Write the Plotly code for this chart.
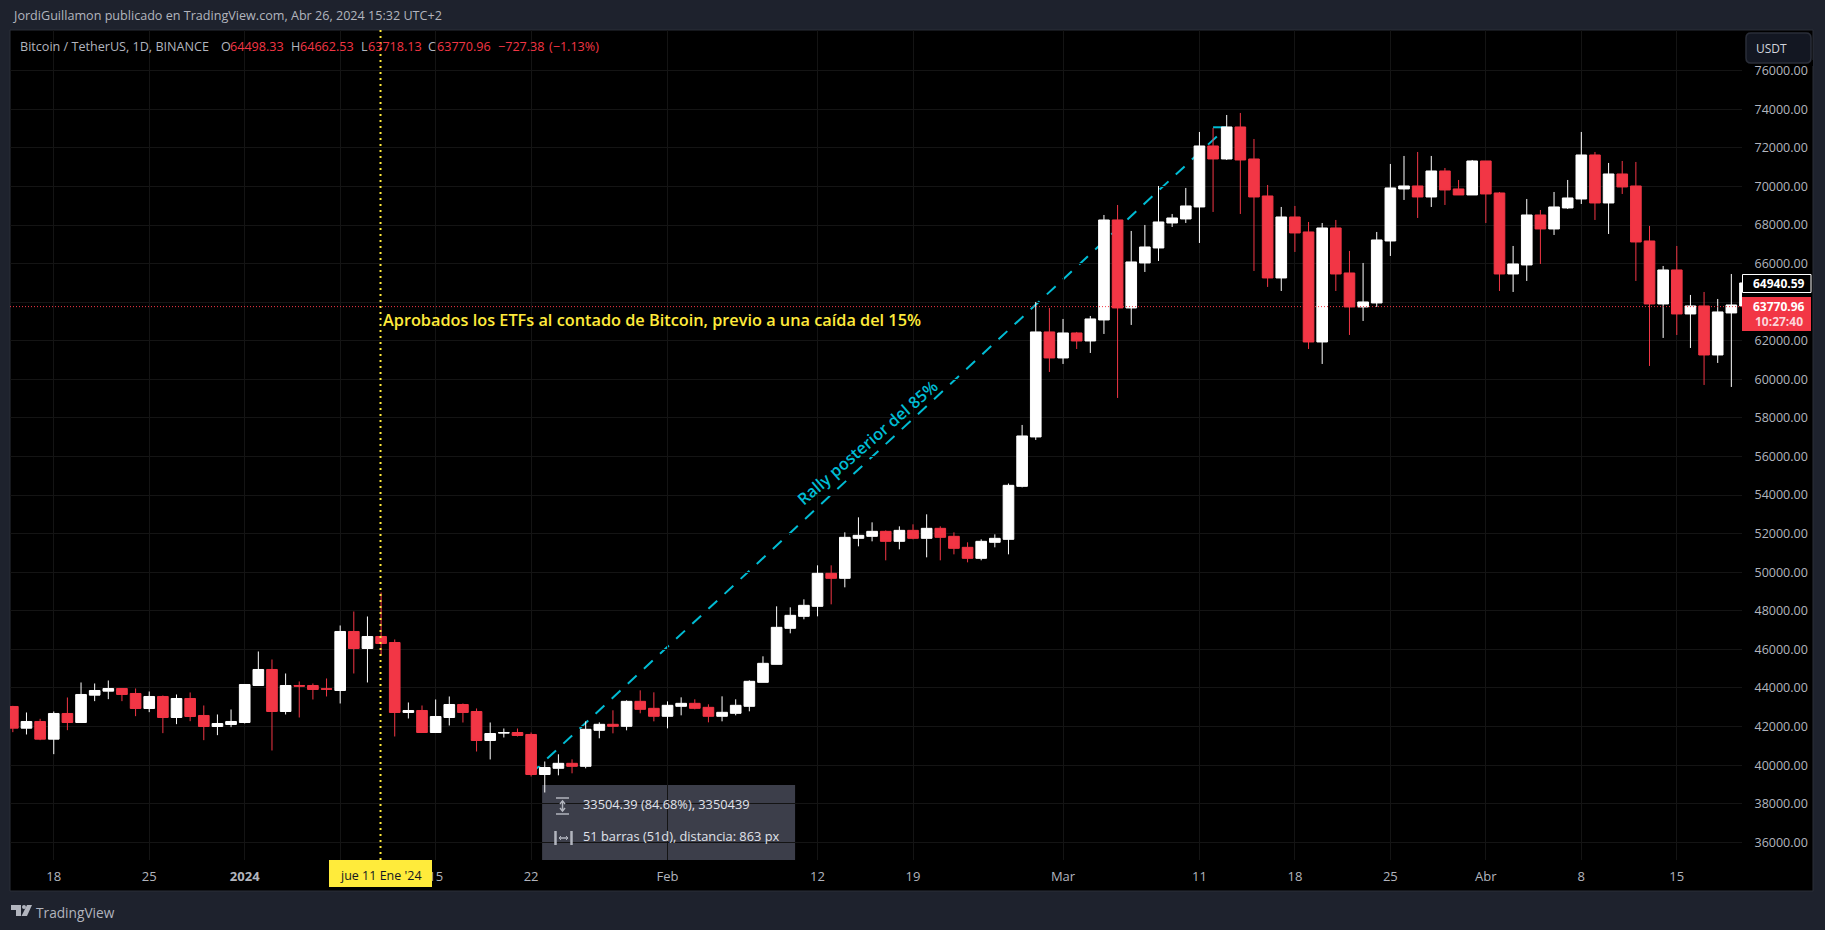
"""
BTC/USDT daily chart from TradingView, rebuilt with Plotly.
OHLC values were read off the screenshot.
"""

import pandas as pd
import plotly.graph_objects as go

# ── Data ───────────────────────────────────────────────────────────────────────
dates = pd.date_range("2023-12-15", "2024-04-20", freq="D")

opens = [
    43041, 41917, 42263, 41347, 42678, 42211, 43628, 43836, 43974, 43715, 42937, 43559, 42470, 43455, 42574, 42003, 42107,
    42211, 44129, 44959, 42781, 44129, 44129, 43957, 43870, 46929, 46047, 46669, 46358, 42730, 42833, 41692, 42470, 43144,
    42781, 41278, 41658, 41692, 41589, 39515, 39835, 40094, 39938, 41805, 42116, 42012, 43308, 42945,
    42531, 43049, 43204, 42997, 42531, 42686, 43049, 44293, 45226, 47092, 47714, 48233, 49944, 49684, 51758, 51862, 52121,
    51602, 52172, 51758, 52276, 51862, 51291, 50721, 51551, 51706, 54454, 57014, 62457,
    61109, 62405, 61990, 63079, 68263, 63701, 66034, 66811, 68107, 68315, 68937, 72099, 71425, 73084, 71425, 69507, 65256,
    68418, 67641, 61938, 67848, 65515, 63753, 63960, 67174, 69870, 70025, 69455, 70803, 69870, 69559,
    71321, 69662, 65463, 65930, 68522, 67796, 68885, 69351, 71632, 69144, 70647, 70025, 67174, 63908, 65671, 63390, 63805,
    61264, 63442, 63805,
]
highs = [
    43075, 42730, 42401, 42781, 43507, 44285, 44233, 44388, 43974, 43974, 43818, 43611, 43663, 43767, 43092, 42626, 42885,
    44181, 45892, 45477, 44751, 44337, 44233, 44492, 47240, 47965, 47706, 48950, 46514, 43248, 43092, 43403, 43559, 43196,
    42937, 42211, 41900, 41900, 41692, 40189, 40561, 40301, 42271, 42219, 42842, 43360, 43878, 43775,
    43308, 43515, 43412, 43153, 43567, 43412, 44397, 45641, 48233, 48181, 48596, 50358, 50358, 52069, 52847, 52587, 52172,
    52380, 52484, 53002, 52380, 52069, 51551, 51706, 51965, 54600, 57636, 64012, 63701,
    63131, 62457, 63286, 68522, 69040, 67693, 68004, 70025, 68574, 69922, 72825, 73032, 73706, 73810, 72462, 70077, 68937,
    68989, 68159, 68107, 68263, 66656, 66034, 67641, 71166, 71581, 71788, 71581, 70958, 70336, 71373,
    71321, 69714, 66915, 69351, 68781, 69714, 70336, 72825, 71788, 71218, 71321, 71270, 67952, 65878, 66915, 64375, 64530,
    64167, 65463, 65400,
]
lows = [
    41710, 41589, 41295, 40569, 41813, 42211, 43317, 43421, 43317, 42539, 42747, 41658, 42125, 42280, 41295, 41554, 41969,
    42159, 44129, 40759, 42626, 42470, 43403, 43559, 43196, 44751, 44285, 45685, 41485, 42418, 41692, 41692, 42055, 42211,
    40707, 40293, 41433, 41485, 39412, 38582, 39472, 39576, 39835, 41390, 41649, 41805, 42686, 42271,
    41908, 42582, 42893, 42219, 42271, 42582, 42790, 44293, 45226, 46833, 47559, 47714, 48336, 49218, 51343, 51602, 50617,
    51188, 51706, 50773, 50617, 50928, 50514, 50617, 51291, 50928, 54400, 56858, 60383,
    60798, 61575, 61368, 62353, 59035, 62820, 65567, 66137, 67900, 68107, 67070, 68678, 71373, 68574, 65619, 64790, 64582,
    66604, 61575, 60798, 64582, 62301, 63027, 63753, 66397, 69300, 68366, 68937, 69040, 69559, 69559,
    68107, 64582, 64530, 65101, 65982, 67485, 68833, 69092, 68263, 67537, 69611, 65101, 60694, 62146, 62301, 61627, 59709,
    60850, 59606, 63700,
]
closes = [
    41917, 42263, 41347, 42678, 42211, 43663, 43870, 43974, 43663, 42937, 43559, 42470, 43455, 42522, 42003, 42159, 42263,
    44181, 44959, 42781, 44129, 44095, 43922, 43939, 46929, 46047, 46669, 46307, 42730, 42833, 41692, 42522, 43144, 42730,
    41278, 41640, 41692, 41537, 39515, 39878, 40094, 39938, 41857, 42116, 42012, 43308, 42893, 42531,
    43101, 43204, 42945, 42531, 42738, 43101, 44345, 45278, 47144, 47766, 48284, 49944, 49684, 51810, 51913, 52121, 51602,
    52172, 51758, 52276, 51810, 51239, 50721, 51602, 51758, 54505, 57065, 62457, 61109,
    62405, 61990, 63131, 68263, 63701, 66086, 66863, 68159, 68366, 68989, 72099, 71425, 73084, 71373, 69455, 65256, 68418,
    67589, 61938, 67848, 65463, 63753, 64012, 67226, 69922, 70025, 69455, 70803, 69818, 69559, 71321,
    69611, 65463, 65982, 68522, 67796, 68937, 69403, 71632, 69144, 70647, 69974, 67122, 63908, 65671, 63390, 63805, 61264,
    63494, 63856, 64997,
]

time_ticks = ["2023-12-18", "2023-12-25", "2024-01-01", "2024-01-08", "2024-01-15", "2024-01-22", "2024-02-01",
              "2024-02-12", "2024-02-19", "2024-03-01", "2024-03-11", "2024-03-18", "2024-03-25", "2024-04-01",
              "2024-04-08", "2024-04-15"]
# the "8" and "64000.00" labels sit behind the date and price tags in the original
time_labels = ["18", "25", "<b>2024</b>", "", "15", "22", "Feb", "12", "19", "Mar", "11", "18", "25", "Abr", "8", "15"]
price_ticks = [36000, 38000, 40000, 42000, 44000, 46000, 48000, 50000, 52000, 54000, 56000, 58000,
               60000, 62000, 64000, 66000, 68000, 70000, 72000, 74000, 76000]
price_labels = ["36000.00", "38000.00", "40000.00", "42000.00", "44000.00", "46000.00", "48000.00", "50000.00",
                "52000.00", "54000.00", "56000.00", "58000.00", "60000.00", "62000.00", "", "66000.00",
                "68000.00", "70000.00", "72000.00", "74000.00", "76000.00"]

last_close = 63770.96
etf_date = "2024-01-10 23:00"  # a hair left of the candle, so its wick shows beside the dots
rally_dates = ["2024-01-22", "2024-03-13"]
rally_prices = [39563, 73068]

# ── Colours ────────────────────────────────────────────────────────────────────
PAGE_BG = "#1e222d"
BLACK = "#000000"
BORDER = "#2a2e39"
GRID = "#141414"
TEXT = "#b2b5be"
UP = "#ffffff"
DOWN = "#f23645"
CYAN = "#00bcd4"
YELLOW = "#ffeb3b"
TOOLTIP = "#3c3e4a"
FONT = "Open Sans, sans-serif"

# plot area in page pixels
LEFT, RIGHT, TOP, BOTTOM = 10, 1742, 30, 860


def px(x):
    return (x - LEFT) / (RIGHT - LEFT)


def py(y):
    return (BOTTOM - y) / (BOTTOM - TOP)


def rect(x0, y0, x1, y1, fill, line=None, layer="above", width=1):
    return dict(type="rect", xref="paper", yref="paper", x0=px(x0), x1=px(x1), y0=py(y0), y1=py(y1),
                fillcolor=fill, line=dict(color=line or fill, width=width if line else 0), layer=layer)


def poly(points, fill=None, line=None, width=1, close=True):
    path = "M " + " L ".join(f"{px(x):.5f} {py(y):.5f}" for x, y in points) + (" Z" if close else "")
    return dict(type="path", xref="paper", yref="paper", path=path, fillcolor=fill or "rgba(0,0,0,0)",
                line=dict(color=line or fill, width=width if line else 0), layer="above")


def rounded(x0, y0, x1, y1, r, fill, line):
    p = [f"M {px(x0 + r):.5f} {py(y0):.5f}", f"L {px(x1 - r):.5f} {py(y0):.5f}",
         f"Q {px(x1):.5f} {py(y0):.5f} {px(x1):.5f} {py(y0 + r):.5f}", f"L {px(x1):.5f} {py(y1 - r):.5f}",
         f"Q {px(x1):.5f} {py(y1):.5f} {px(x1 - r):.5f} {py(y1):.5f}", f"L {px(x0 + r):.5f} {py(y1):.5f}",
         f"Q {px(x0):.5f} {py(y1):.5f} {px(x0):.5f} {py(y1 - r):.5f}", f"L {px(x0):.5f} {py(y0 + r):.5f}",
         f"Q {px(x0):.5f} {py(y0):.5f} {px(x0 + r):.5f} {py(y0):.5f}", "Z"]
    return dict(type="path", xref="paper", yref="paper", path=" ".join(p), fillcolor=fill,
                line=dict(color=line, width=1.5), layer="above")


def label(text, x, y, size=12.6, color=TEXT, anchor="left", angle=0, weight="normal"):
    # annotations carry a small inner padding, pull left-aligned ones back
    x = x - 2 if anchor == "left" else x
    return dict(text=text, xref="paper", yref="paper", x=px(x), y=py(y), xanchor=anchor, yanchor="middle",
                showarrow=False, textangle=angle, font=dict(family=FONT, size=size, color=color, weight=weight))


# ── Figure ─────────────────────────────────────────────────────────────────────
fig = go.Figure(go.Candlestick(
    x=dates, open=opens, high=highs, low=lows, close=closes,
    whiskerwidth=0,
    increasing=dict(line=dict(color=UP, width=1), fillcolor=UP),
    decreasing=dict(line=dict(color=DOWN, width=1), fillcolor=DOWN),
    showlegend=False,
    hoverinfo="skip",
))

shapes = [
    # page frame
    rect(10, 30, 1813, 891, BLACK, line=BORDER, layer="below"),
    # measure tooltip sits over the grid but under the candles
    dict(type="rect", xref="x", yref="y", x0="2024-01-22 19:20", x1="2024-02-10 08:30", y0=35082, y1=38970,
         fillcolor=TOOLTIP, line=dict(width=0), layer="below"),
    # rally line
    dict(type="line", xref="x", yref="y", x0=rally_dates[0], x1=rally_dates[1], y0=rally_prices[0], y1=rally_prices[1],
         line=dict(color=CYAN, width=2, dash="12px,10px"), layer="below"),
    dict(type="line", xref="x", yref="y", x0="2024-03-12", x1=rally_dates[1], y0=rally_prices[1], y1=rally_prices[1],
         line=dict(color=CYAN, width=2), layer="below"),
    # last price and event lines
    dict(type="line", xref="paper", yref="y", x0=0, x1=1, y0=last_close, y1=last_close,
         line=dict(color=DOWN, width=1, dash="1px,2px"), layer="above"),
    dict(type="line", xref="x", yref="paper", x0=etf_date, x1=etf_date, y0=0, y1=1,
         line=dict(color=YELLOW, width=2, dash="2px,4px"), layer="above"),
    # date label on the time axis
    rect(329, 860, 432, 887, YELLOW),
    # price labels
    rect(1742, 297, 1811, 331, DOWN),
    rect(1742.5, 274.5, 1811, 292.5, BLACK, line="#ffffff"),
    # USDT button
    rect(1744, 60, 1813, 66, BLACK),
    rounded(1746, 33, 1811, 63, 5, "#131722", BORDER),
    # tooltip icons
    poly([(556, 798), (569, 798)], line=TEXT, width=1.5, close=False),
    poly([(556, 814), (569, 814)], line=TEXT, width=1.5, close=False),
    poly([(562.5, 801), (562.5, 811)], line=TEXT, width=1.5, close=False),
    poly([(560, 804), (562.5, 801), (565, 804)], line=TEXT, width=1.5, close=False),
    poly([(560, 808), (562.5, 811), (565, 808)], line=TEXT, width=1.5, close=False),
    poly([(555.5, 831), (555.5, 845)], line=TEXT, width=2.5, close=False),
    poly([(571.5, 831), (571.5, 845)], line=TEXT, width=2.5, close=False),
    poly([(559, 838), (568, 838)], line=TEXT, width=1.5, close=False),
    poly([(561, 836), (559, 838), (561, 840)], line=TEXT, width=1, close=False),
    poly([(566, 836), (568, 838), (566, 840)], line=TEXT, width=1, close=False),
    # TradingView mark
    poly([(11, 905), (21, 905), (21, 916), (16, 916), (16, 910), (11, 910)], fill=TEXT),
    poly([(27, 905), (32, 905), (27, 916), (21.5, 916)], fill=TEXT),
    dict(type="circle", xref="paper", yref="paper", x0=px(22), x1=px(26), y0=py(905), y1=py(909),
         fillcolor=TEXT, line=dict(width=0), layer="above"),
]

annotations = [
    label("JordiGuillamon publicado en TradingView.com, Abr 26, 2024 15:32 UTC+2", 11.5, 16),
    label("Bitcoin / TetherUS, 1D, BINANCE", 20, 46.5),
    label("O", 220.5, 46.5), label("64498.33", 229.5, 46.5, color=DOWN),
    label("H", 290.5, 46.5), label("64662.53", 299.5, 46.5, color=DOWN),
    label("L", 360.5, 46.5), label("63718.13", 367.5, 46.5, color=DOWN),
    label("C", 428, 46.5), label("63770.96", 436.5, 46.5, color=DOWN),
    label("−727.38", 497.5, 46.5, color=DOWN), label("(−1.13%)", 549, 46.5, color=DOWN),
    label("Aprobados los ETFs al contado de Bitcoin, previo a una caída del 15%", 383, 320, size=16.3, color=YELLOW, weight=600),
    label("Rally posterior del 85%", 867, 443, size=16.3, color=CYAN, anchor="center", angle=-41, weight=600),
    label("33504.39 (84.68%), 3350439", 583, 804, size=12.8, color="#e0e3eb"),
    label("51 barras (51d), distancia: 863 px", 583, 836, size=12.8, color="#e0e3eb"),
    label("jue 11 Ene '24", 380.5, 875, size=12.5, color="#131722", anchor="center"),
    label("<b>64940.59</b>", 1778.5, 283, size=12, color="#ffffff", anchor="center"),
    label("<b>63770.96</b>", 1778.5, 306.5, size=12, color="#ffffff", anchor="center"),
    label("<b>10:27:40</b>", 1778.5, 321.5, size=12, color="#fbd5d9", anchor="center"),
    label("USDT", 1756, 48, size=12, color="#d1d4dc"),
    label("TradingView", 36, 912, size=13.7),
]

fig.update_layout(
    width=1825,
    height=930,
    autosize=False,
    margin=dict(l=LEFT, r=1825 - RIGHT, t=TOP, b=930 - BOTTOM, pad=0),
    paper_bgcolor=PAGE_BG,
    plot_bgcolor=BLACK,
    font=dict(family=FONT, color=TEXT, size=12.5),
    showlegend=False,
    dragmode=False,
    boxgap=0.22,
    boxgroupgap=0,
    xaxis=dict(
        type="date",
        range=["2023-12-14 19:00", "2024-04-19 18:45"],
        rangeslider=dict(visible=False),
        tickmode="array", tickvals=time_ticks, ticktext=time_labels,
        ticks="outside", ticklen=4, tickcolor="rgba(0,0,0,0)", tickangle=0,
        tickfont=dict(size=13, color=TEXT),
        showgrid=True, gridcolor=GRID, gridwidth=1,
        showline=False, zeroline=False,
    ),
    yaxis=dict(
        side="right",
        range=[35082, 78111],
        tickmode="array", tickvals=price_ticks, ticktext=price_labels,
        ticks="outside", ticklen=9, tickcolor="rgba(0,0,0,0)",
        tickfont=dict(size=12.5, color=TEXT),
        showgrid=True, gridcolor=GRID, gridwidth=1,
        showline=False, zeroline=False,
    ),
    shapes=shapes,
    annotations=annotations,
)

fig.write_html(
    "out.html",
    config={"displayModeBar": False},
    post_script="document.body.style.margin='0';document.body.style.background='%s';" % PAGE_BG,
)
